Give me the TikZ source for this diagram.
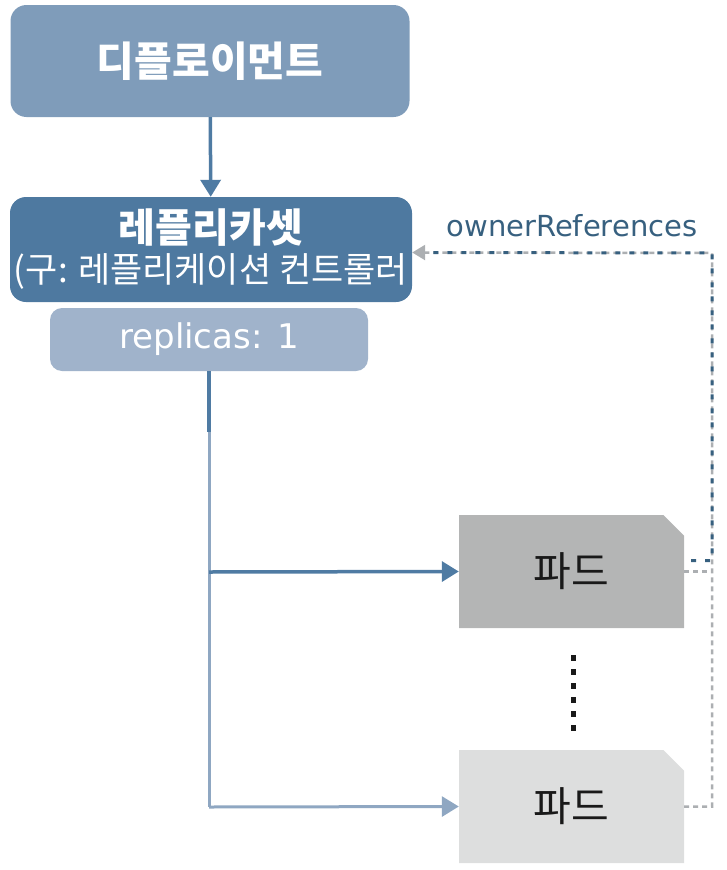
\documentclass[tikz,border=0pt]{standalone}
\usepackage{fontspec}
\setmainfont{DejaVu Sans}
\newfontfamily\kr{Noto Sans CJK KR}
\usetikzlibrary{arrows.meta,shapes.misc,calc}

\definecolor{deploy}{HTML}{7F9CBA}
\definecolor{rset}{HTML}{4E79A0}
\definecolor{repl}{HTML}{A0B3CB}
\definecolor{linkdark}{HTML}{4F7BA3}
\definecolor{linklight}{HTML}{8FA7C2}
\definecolor{podfull}{HTML}{B4B5B5}
\definecolor{podpale}{HTML}{DDDEDE}
\definecolor{ownerblue}{HTML}{37607F}
\definecolor{ownergray}{HTML}{ACAFB2}

\begin{document}
\begin{tikzpicture}[x=1pt,y=-1pt,
	objbox/.style={rounded corners=16pt, text=white, inner sep=0pt, align=center},
	podbox/.style={chamfered rectangle, chamfered rectangle corners=north east,
		chamfered rectangle xsep=17pt, minimum width=225pt, minimum height=113pt,
		inner sep=0pt, text=black!90, font=\kr\fontsize{41}{46}\selectfont},
	linkarrow/.style={line width=3.5pt, -{Triangle[length=17pt,width=20pt]}},
	ownerline/.style={line width=2.5pt, dash pattern=on 5pt off 4pt}]
	\useasboundingbox (0,0) rectangle (726,870);

	% objects
	\node[objbox, fill=deploy, minimum width=399pt, minimum height=112pt,
		font=\kr\bfseries\fontsize{41}{46}\selectfont] (dep) at (210,61) {디플로이먼트};
	\node[objbox, fill=rset, minimum width=402pt, minimum height=105pt,
		font=\kr\fontsize{35}{40}\selectfont] (rs) at (211,249.5)
		{{\fontsize{40}{40}\selectfont\bfseries 레플리카셋}\\(구: 레플리케이션 컨트롤러};
	\node[objbox, rounded corners=12pt, fill=repl, minimum width=318pt, minimum height=63pt,
		font=\fontsize{34}{40}\selectfont] (rep) at (209,339.5) {replicas: 1};

	\node[podbox, fill=podfull] (p1) at (571.5,571.5) {파드};
	\node[podbox, fill=podpale] (p2) at (571.5,806.5) {파드};
	\foreach \i in {0,...,5} \fill[black!90] (570.5,655+14*\i) rectangle ++(5.5,5.5);

	% links
	\coordinate (split) at (209,572);
	\coordinate (bend) at (209,807);
	\coordinate (top) at (712,253);
	\draw[linkarrow, draw=linkdark, fill=linkdark] (dep) -- (rs);
	\draw[line width=3pt, linklight] (rep.south) -- (bend);
	\draw[line width=3.5pt, linkdark] (rep.south) -- (209,432);
	\draw[linkarrow, draw=linkdark, fill=linkdark] (split) -- (p1.west);
	\draw[linkarrow, line width=3pt, draw=linklight, fill=linklight] (bend) -- (p2.west);

	% ownerReferences
	\draw[ownerline, ownergray, -{Triangle[length=13pt,width=15pt]}]
		(p2.east) -| (top) -- ($(rs.east)+(0,3)$);
	\draw[ownerline, ownergray] (p1.east) -- (p1.east -| top);
	\draw[ownerline, ownerblue, line width=3pt, dash pattern=on 5pt off 9pt, dash phase=7pt]
		($(p1.east)+(0,-11)$) -| (top) -- ($(rs.east)+(14,3)$);
	\node[text=ownerblue, font=\fontsize{29}{34}\selectfont] (own) at (572,226) {ownerReferences};
\end{tikzpicture}
\end{document}
